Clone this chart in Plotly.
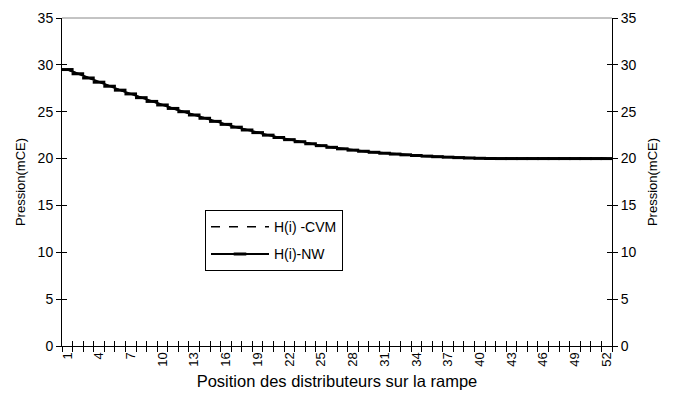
import plotly.graph_objects as go

positions = list(range(1, 53))
h_nw = [29.5, 29.05, 28.6, 28.15, 27.72, 27.3, 26.9, 26.5, 26.1, 25.72,
        25.35, 25.0, 24.65, 24.3, 23.97, 23.65, 23.35, 23.05, 22.77, 22.5,
        22.25, 22.02, 21.8, 21.58, 21.38, 21.2, 21.04, 20.9, 20.78, 20.67,
        20.57, 20.48, 20.4, 20.33, 20.26, 20.2, 20.15, 20.1, 20.06, 20.03,
        20.01, 20.0, 20.0, 20.0, 20.0, 20.0, 20.0, 20.0, 20.0, 20.0, 20.0, 20.0]
h_cvm = [29.5, 29.05, 28.6, 28.15, 27.72, 27.3, 26.9, 26.5, 26.1, 25.72,
         25.35, 25.0, 24.65, 24.3, 23.97, 23.65, 23.35, 23.05, 22.77, 22.5,
         22.25, 22.02, 21.8, 21.58, 21.38, 21.2, 21.04, 20.9, 20.78, 20.67,
         20.57, 20.48, 20.4, 20.33, 20.26, 20.2, 20.15, 20.1, 20.06, 20.03,
         20.01, 20.0, 20.0, 20.0, 20.0, 20.0, 20.0, 20.0, 20.0, 20.0, 20.0, 20.0]
x_tick_labels = [str(v) for v in range(1, 53, 3)]
boundaries = [i + 0.5 for i in range(0, 53)]

FONT = "Liberation Sans, Arial, sans-serif"

fig = go.Figure()
fig.add_trace(go.Scatter(x=positions, y=h_cvm, mode="lines", name="H(i) -CVM",
                         legendgroup="a",
                         line=dict(color="black", width=1.5, dash="dash")))
fig.add_trace(go.Scatter(x=positions, y=h_nw, mode="lines+markers", name="H(i)-NW",
                         legendgroup="b",
                         line=dict(color="black", width=2),
                         marker=dict(symbol="line-ew", size=9,
                                     line=dict(color="black", width=3))))
# invisible helper traces so the extra tick axes are drawn
for xa, ya in [("x2", "y"), ("x3", "y"), ("x", "y2"), ("x", "y3")]:
    fig.add_trace(go.Scatter(x=positions, y=h_nw, mode="lines", showlegend=False,
                             line=dict(color="rgba(0,0,0,0)"), hoverinfo="skip",
                             xaxis=xa, yaxis=ya))

common_y = dict(range=[0, 35], dtick=5, tickcolor="black", ticklen=5,
                showgrid=False, zeroline=False, tickfont=dict(size=14))

fig.update_layout(
    width=675, height=397,
    margin=dict(l=62, r=63, t=10, b=51),
    paper_bgcolor="white", plot_bgcolor="white",
    font=dict(family=FONT, size=14, color="black"),
    showlegend=True,
    legend=dict(x=0.26, y=0.414, xanchor="left", yanchor="top",
                bordercolor="black", borderwidth=1, bgcolor="white",
                traceorder="grouped", tracegroupgap=6, itemwidth=58,
                font=dict(size=14, family=FONT)),
    xaxis=dict(range=[0.5, 52.5], tickvals=list(range(1, 53, 3)),
               ticktext=x_tick_labels, ticks="", tickangle=-90,
               tickfont=dict(size=13), showline=True, linecolor="black",
               linewidth=1, showgrid=False, zeroline=False,
               title=dict(text="Position des distributeurs sur la rampe",
                          font=dict(size=16.5), standoff=9)),
    xaxis2=dict(range=[0.5, 52.5], overlaying="x", anchor="y", side="bottom",
                tickvals=boundaries, ticks="outside", ticklen=5, tickcolor="black",
                showticklabels=False, showgrid=False, zeroline=False, showline=False),
    xaxis3=dict(range=[0.5, 52.5], overlaying="x", anchor="y", side="bottom",
                tickvals=boundaries, ticks="inside", ticklen=5, tickcolor="black",
                showticklabels=False, showgrid=False, zeroline=False, showline=False),
    yaxis=dict(**common_y, ticks="outside", side="left", showline=True,
               mirror=True, linecolor="black", linewidth=1,
               title=dict(text="Pression(mCE)", font=dict(size=13), standoff=9)),
    yaxis2=dict(**common_y, ticks="outside", side="right", overlaying="y",
                anchor="x", showline=False,
                title=dict(text="Pression(mCE)", font=dict(size=13), standoff=12)),
    yaxis3=dict(**common_y, ticks="inside", side="left", overlaying="y",
                anchor="x", mirror="ticks", showline=True, linecolor="black",
                showticklabels=False),
    shapes=[dict(type="line", xref="paper", yref="paper", x0=0, x1=1, y0=1, y1=1,
                 line=dict(color="#888888", width=1))],
)

fig.write_html("out.html")
